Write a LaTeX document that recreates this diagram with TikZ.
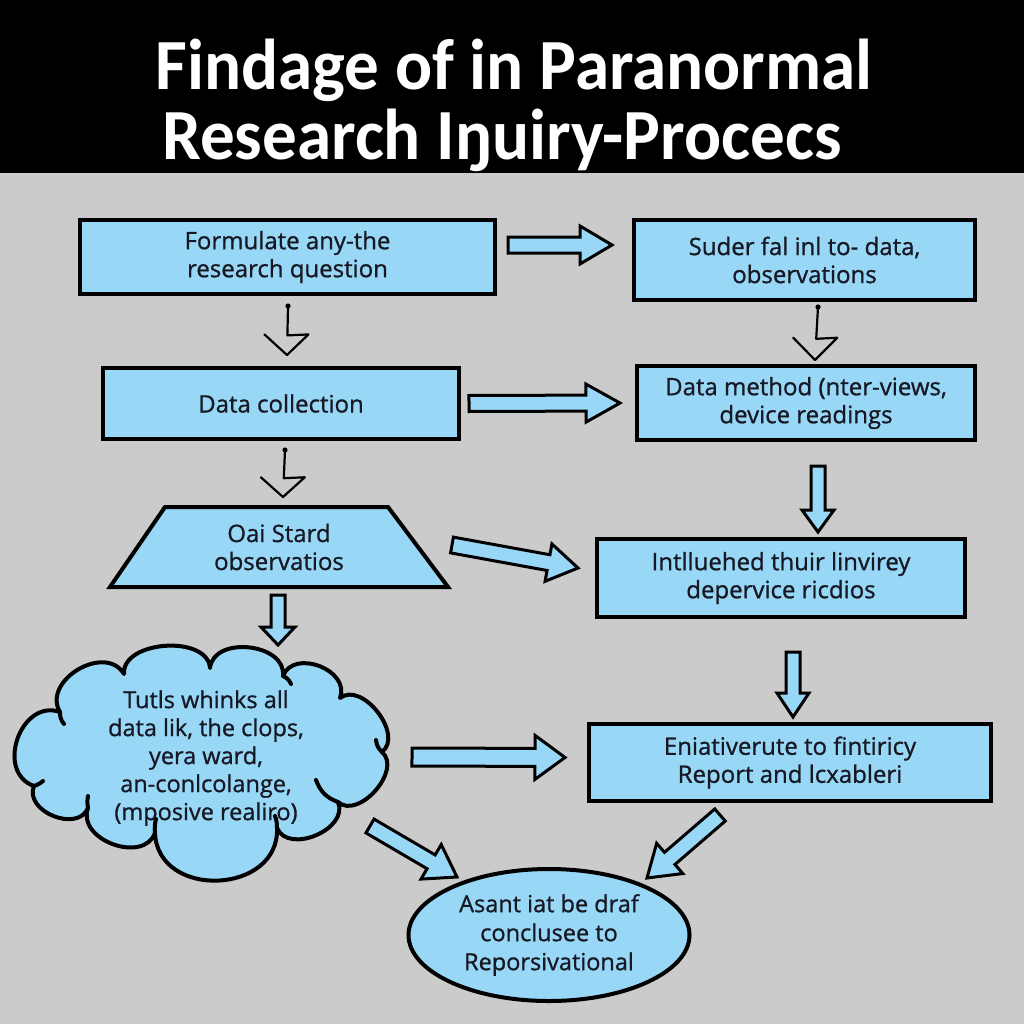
\documentclass[tikz,border=0pt]{standalone}
\usepackage{fontspec}
\setmainfont{Open Sans}[FakeBold=0.9]
\newfontfamily\boxfont{Open Sans}[FakeBold=0.9]
\newfontfamily\titlefont{Carlito}
\usetikzlibrary{shapes.geometric,calc}
\definecolor{bg}{RGB}{203,203,203}
\definecolor{boxblue}{RGB}{152,216,246}
\definecolor{ink}{RGB}{22,24,36}
\newcommand{\blockarrow}[5]{%
  \coordinate (baq) at ($(#2)!#5!(#1)$);
  \draw[barrow] ($(#1)!#3!90:(#2)$) -- ($(baq)!#3!90:(#2)$) -- ($(baq)!#4!90:(#2)$) -- (#2)
    -- ($(baq)!#4!-90:(#2)$) -- ($(baq)!#3!-90:(#2)$) -- ($(#1)!#3!-90:(#2)$) -- cycle;}
\newcommand{\thinarrow}[2]{%
  \fill[black] (#1) circle (2.6pt);
  \draw[thinarr] (#1) -- ($(#1)!0.6!(#2)$) -- ($(#1)!0.58!(#2)+(21,0)$) -- (#2);
  \draw[thinarr] ($(#1)!0.58!(#2)+(-23,0)$) -- (#2);}
\begin{document}
\begin{tikzpicture}[x=1pt,y=-1pt,
  box/.style={draw=black, line width=4pt, fill=boxblue, text=ink, align=center,
    font=\boxfont\fontsize{24}{28}\selectfont, inner sep=0pt},
  cloudline/.style={draw=black, line width=4pt, line cap=round, line join=round},
  barrow/.style={draw=black, line width=3pt, fill=boxblue, line join=miter},
  thinarr/.style={draw=black, line width=2.2pt, line cap=round, line join=round},
  titletext/.style={text=white, font=\titlefont\bfseries\fontsize{72}{74}\selectfont, inner sep=0pt}]
\useasboundingbox (0,0) rectangle (1024,1024);
\fill[bg] (0,0) rectangle (1024,1024);
\fill[black] (0,0) rectangle (1024,173);
\node[titletext] (t1) at (514,70) {\scalebox{0.96}[1]{Findage of in Paranormal}};
\node[titletext] (t2) at (502,140) {\scalebox{0.96}[1]{Research Iŋuiry-Procecs}};
% boxes
\node[box, minimum width=415pt, minimum height=74pt] (A) at (287.5,257) {Formulate any-the\\research question};
\node[box, minimum width=341pt, minimum height=80pt] (B) at (804.5,260) {Suder fal inl to- data,\\observations};
\node[box, minimum width=356pt, minimum height=71pt] (C) at (281,403.5) {Data collection};
\node[box, minimum width=338pt, minimum height=74pt] (D) at (806,403) {Data method (nter-views,\\device readings};
\draw[box] (110,587) -- (165,507) -- (388,507) -- (448,587) -- cycle;
\node[box, draw=none, fill=none] (E) at (279,547) {Oai Stard\\observatios};
\node[box, minimum width=368pt, minimum height=78pt] (F) at (781,578) {Intlluehed thuir linvirey\\depervice ricdios};
% cloud
\coordinate (j1) at (60,712);
\coordinate (j2) at (124,674);
\coordinate (j3) at (210,668);
\coordinate (j4) at (283,676);
\coordinate (j5) at (340,698);
\coordinate (jr) at (382,752);
\coordinate (j6) at (338,802);
\coordinate (j7) at (277,828);
\coordinate (j8) at (155,833);
\coordinate (j9) at (88,808);
\coordinate (j10) at (34,786);
\draw[cloudline, fill=boxblue] (j1) to[bend left=90, looseness=1.25] (j2)
  to[bend left=90, looseness=1.0] (j3)
  to[bend left=90, looseness=1.15] (j4)
  to[bend left=90, looseness=1.25] (j5)
  to[bend left=90, looseness=1.05] (jr)
  to[bend left=90, looseness=1.05] (j6)
  to[bend left=90, looseness=1.13] (j7)
  to[bend left=90, looseness=1.4] (j8)
  to[bend left=90, looseness=1.2] (j9)
  to[bend left=90, looseness=1.2] (j10)
  to[bend left=90, looseness=1.36] cycle;
\draw[cloudline] (j1) to[bend right=20] +(4,12);
\draw[cloudline] (j4) to[bend left=20] +(8,8);
\draw[cloudline] (jr) to[bend left=20] +(-6,-12);
\draw[cloudline] (j6) to[bend left=25] +(-22,-22);
\draw[cloudline] (j7) to[bend right=10] +(-2,-12);
\draw[cloudline] (j8) to[bend left=10] +(1,-14);
\draw[cloudline] (j9) to[bend left=10] +(0,-12);
\draw[cloudline] (j10) to[bend right=10] +(9,-5);
\node[box, draw=none, fill=none, font=\boxfont\fontsize{23.5}{28}\selectfont] (G) at (206,758) {Tutls whinks all\\data lik, the clops,\\yera ward,\\an-conlcolange,\\(mposive realiro)};
\node[box, minimum width=402pt, minimum height=77pt] (H) at (790,762.5) {Eniativerute to fintiricy\\Report and lcxableri};
\node[box, ellipse, minimum width=281pt, minimum height=132pt, font=\boxfont\fontsize{23.5}{29}\selectfont] (I) at (549,935) {Asant iat be draf\\conclusee to\\Reporsivational};
% thin arrows
\coordinate (ac1) at ([shift={(0.5,10)}]A.south);
\coordinate (ac2) at ([shift={(6,-11)}]C.north);
\thinarrow{ac1}{ac2}
\coordinate (ce1) at ([shift={(4,9)}]C.south);
\coordinate (ce2) at ([shift={(4,-50)}]E.center);
\thinarrow{ce1}{ce2}
\coordinate (bd1) at ([shift={(13.5,5)}]B.south);
\coordinate (bd2) at ([shift={(9,-4)}]D.north);
\thinarrow{bd1}{bd2}
% block arrows
\coordinate (ab1) at ([shift={(11,-12)}]A.east);
\coordinate (ab2) at ([shift={(-20,-15)}]B.west);
\blockarrow{ab1}{ab2}{8pt}{19pt}{32pt}
\coordinate (cd1) at ([shift={(8,0)}]C.east);
\coordinate (cd2) at ([shift={(-15,0)}]D.west);
\blockarrow{cd1}{cd2}{8pt}{19pt}{34pt}
\coordinate (ef1) at ([shift={(173,-2)}]E.center);
\coordinate (ef2) at ([shift={(-17,-10)}]F.west);
\blockarrow{ef1}{ef2}{8pt}{19pt}{30pt}
\coordinate (df1) at ([shift={(12,24)}]D.south);
\coordinate (df2) at ([shift={(37,-5)}]F.north);
\blockarrow{df1}{df2}{7pt}{16pt}{22pt}
\coordinate (fh1) at ([shift={(12,33)}]F.south);
\coordinate (fh2) at ([shift={(3,-5)}]H.north);
\blockarrow{fh1}{fh2}{7pt}{16pt}{24pt}
\coordinate (eg1) at ([shift={(-1,48)}]E.center);
\coordinate (eg2) at ([shift={(72,-113)}]G.center);
\blockarrow{eg1}{eg2}{7pt}{17pt}{18pt}
\coordinate (gh1) at ([shift={(206,-1)}]G.center);
\coordinate (gh2) at ([shift={(-22,-5)}]H.west);
\blockarrow{gh1}{gh2}{9pt}{22pt}{30pt}
\coordinate (gi1) at ([shift={(164,68)}]G.center);
\coordinate (gi2) at ([shift={(-92,-58)}]I.center);
\blockarrow{gi1}{gi2}{8pt}{20pt}{30pt}
\coordinate (hi1) at ([shift={(-70,12)}]H.south);
\coordinate (hi2) at ([shift={(98,-57)}]I.center);
\blockarrow{hi1}{hi2}{8pt}{20pt}{30pt}
\end{tikzpicture}
\end{document}
